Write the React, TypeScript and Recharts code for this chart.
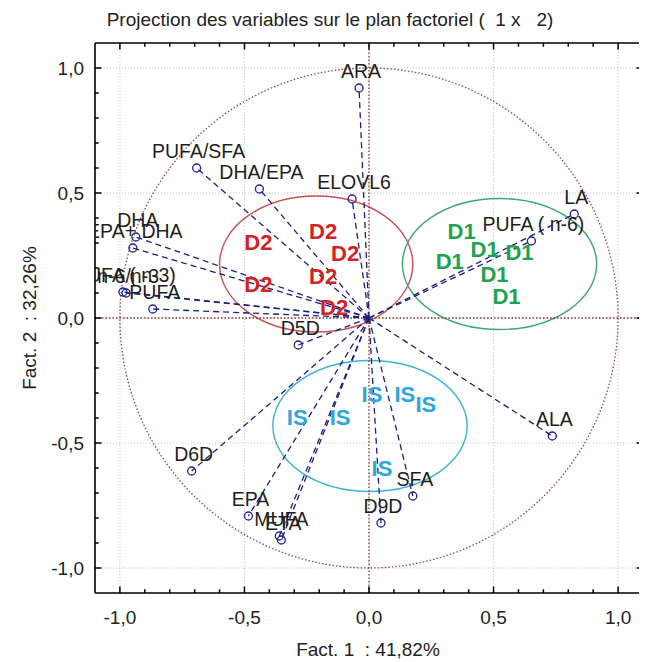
import React from "react";
import { ScatterChart, Scatter, XAxis, YAxis, CartesianGrid, ReferenceLine, ReferenceArea } from "recharts";

// variables projected on factors 1 and 2
const varNames = [
  "ARA", "PUFA/SFA", "DHA/EPA", "ELOVL6", "LA", "PUFA ( n-6)", "DHA", "EPA+ DHA",
  "PUFA ( n-3)", "n-6/n-3", "PUFA", "D5D", "D6D", "EPA", "MUFA", "ETA", "D9D", "SFA", "ALA",
];
const fact1 = [-0.04, -0.692, -0.44, -0.068, 0.824, 0.652, -0.936, -0.948, -0.988, -0.975, -0.868, -0.284, -0.712, -0.484, -0.36, -0.352, 0.048, 0.176, 0.736];
const fact2 = [0.92, 0.6, 0.516, 0.476, 0.416, 0.308, 0.324, 0.28, 0.104, 0.1, 0.036, -0.108, -0.612, -0.792, -0.872, -0.888, -0.82, -0.712, -0.472];

// observations (group labels)
const d2X = [-0.444, -0.184, -0.096, -0.444, -0.184, -0.14];
const d2Y = [0.304, 0.348, 0.26, 0.136, 0.168, 0.044];
const d1X = [0.372, 0.464, 0.604, 0.324, 0.504, 0.552];
const d1Y = [0.348, 0.276, 0.264, 0.228, 0.176, 0.088];
const isX = [-0.288, -0.116, 0.012, 0.144, 0.228, 0.052];
const isY = [-0.396, -0.396, -0.304, -0.304, -0.344, -0.6];

// group ellipses: centre and half-axes
const groupNames = ["D2", "D1", "IS"];
const ellCx = [-0.212, 0.524, 0.004];
const ellCy = [0.216, 0.216, -0.432];
const ellRx = [0.388, 0.39, 0.39];
const ellRy = [0.272, 0.262, 0.262];
const groupColors = ["#c8504f", "#3aa870", "#3fb2d2"];
const textColors = ["#d42222", "#22a24e", "#2ea6dc"];

const majorTicks = [-1, -0.5, 0, 0.5, 1];
const allTicks = [-1, -0.9, -0.8, -0.7, -0.6, -0.5, -0.4, -0.3, -0.2, -0.1, 0, 0.1, 0.2, 0.3, 0.4, 0.5, 0.6, 0.7, 0.8, 0.9, 1];
const LO = -1.1;
const HI = 1.1;

const FONT = '"Liberation Sans", Arial, sans-serif';
const isMajor = (v: number) => majorTicks.some((m) => Math.abs(m - v) < 1e-6);
const fmt = (v: number) => v.toFixed(1).replace(".", ",");
// inward tick length in axis units (~6.5px major, ~3.7px minor)
const tickLen = (v: number) => (isMajor(v) ? 0.026 : 0.015);

const varData = varNames.map((name, i) => ({ x: fact1[i], y: fact2[i], name }));
const groupData = [
  d2X.map((x, i) => ({ x, y: d2Y[i], name: "D2" })),
  d1X.map((x, i) => ({ x, y: d1Y[i], name: "D1" })),
  isX.map((x, i) => ({ x, y: isY[i], name: "IS" })),
];

const BottomTick = (p: any) => {
  const v = p.payload.value;
  if (!isMajor(v)) return <g />;
  return (
    <text x={p.x} y={p.y + 31} textAnchor="middle" fontSize={19} fill="#222" fontFamily={FONT}>
      {fmt(v)}
    </text>
  );
};
const LeftTick = (p: any) => {
  const v = p.payload.value;
  if (!isMajor(v)) return <g />;
  return (
    <text x={p.x - 11} y={p.y + 7} textAnchor="end" fontSize={19} fill="#222" fontFamily={FONT}>
      {fmt(v)}
    </text>
  );
};

const ellipseShape = (color: string, dash?: string, width = 1.4) => (p: any) => (
  <ellipse
    cx={p.x + p.width / 2}
    cy={p.y + p.height / 2}
    rx={Math.abs(p.width) / 2}
    ry={Math.abs(p.height) / 2}
    fill="none"
    stroke={color}
    strokeWidth={width}
    strokeDasharray={dash}
  />
);

const VarPoint = (p: any) => {
  const name = p.payload?.name ?? p.name;
  return (
    <g>
      <circle cx={p.cx} cy={p.cy} r={4} fill="none" stroke="#1f2390" strokeWidth={1.3} />
      <text x={p.cx + 2} y={p.cy - 10} textAnchor="middle" fontSize={19.5} fill="#1e1e1e" fontFamily={FONT}>
        {name}
      </text>
    </g>
  );
};

const groupShape = (color: string) => (p: any) => (
  <text x={p.cx} y={p.cy + 8} textAnchor="middle" fontSize={22} fontWeight="bold" fill={color} fontFamily={FONT}>
    {p.payload?.name ?? p.name}
  </text>
);

const tickSegments = allTicks.flatMap((v) => [
  [{ x: v, y: LO }, { x: v, y: LO + tickLen(v) }],
  [{ x: v, y: HI }, { x: v, y: HI - tickLen(v) }],
  [{ x: LO, y: v }, { x: LO + tickLen(v), y: v }],
  [{ x: HI, y: v }, { x: HI - tickLen(v), y: v }],
]);

export default function App() {
  return (
    <div style={{ position: "relative", width: 639, height: 654, fontFamily: FONT }}>
      <div style={{ position: "absolute", left: 0, top: 1, width: 644, lineHeight: "22px", textAlign: "center", fontSize: 19, color: "#222", whiteSpace: "pre" }}>
        {"Projection des variables sur le plan factoriel (  1 x   2)"}
      </div>
      <ScatterChart width={639} height={654} margin={{ top: 35, right: 4, bottom: 0, left: 0 }}>
        <CartesianGrid
          verticalValues={majorTicks}
          horizontalValues={majorTicks}
          stroke="#c4c4c4"
          strokeDasharray="1 2"
        />
        <XAxis
          type="number"
          dataKey="x"
          domain={[LO, HI]}
          allowDataOverflow
          ticks={allTicks}
          interval={0}
          tickSize={0}
          tickMargin={0}
          tickLine={false}
          tick={BottomTick}
          height={69}
          axisLine={{ stroke: "#000", strokeWidth: 1.6 }}
        />
        <XAxis
          xAxisId="top"
          orientation="top"
          mirror
          type="number"
          domain={[LO, HI]}
          tick={false}
          tickLine={false}
          height={10}
          axisLine={{ stroke: "#000", strokeWidth: 1.6 }}
        />
        <YAxis
          type="number"
          dataKey="y"
          domain={[LO, HI]}
          allowDataOverflow
          ticks={allTicks}
          interval={0}
          tickSize={0}
          tickMargin={0}
          tickLine={false}
          tick={LeftTick}
          width={87}
          axisLine={{ stroke: "#000", strokeWidth: 1.6 }}
        />
        <YAxis
          yAxisId="right"
          orientation="right"
          mirror
          type="number"
          domain={[LO, HI]}
          tick={false}
          tickLine={false}
          width={10}
          axisLine={{ stroke: "#000", strokeWidth: 1.6 }}
        />
        <ReferenceLine x={0} stroke="#8e3434" strokeDasharray="1.5 2" strokeWidth={1.3} />
        <ReferenceLine y={0} stroke="#8e3434" strokeDasharray="1.5 2" strokeWidth={1.3} />
        {tickSegments.map((s, i) => (
          <ReferenceLine key={`t${i}`} segment={s} stroke="#000" strokeWidth={1.5} ifOverflow="visible" />
        ))}
        <ReferenceArea x1={-1} x2={1} y1={-1} y2={1} shape={ellipseShape("#9a4545", "1.5 2", 1.3)} />
        {groupNames.map((g, i) => (
          <ReferenceArea
            key={g}
            x1={ellCx[i] - ellRx[i]}
            x2={ellCx[i] + ellRx[i]}
            y1={ellCy[i] - ellRy[i]}
            y2={ellCy[i] + ellRy[i]}
            shape={ellipseShape(groupColors[i])}
          />
        ))}
        {varNames.map((n, i) => (
          <ReferenceLine
            key={n}
            segment={[{ x: 0, y: 0 }, { x: fact1[i], y: fact2[i] }]}
            stroke="#1c1f7e"
            strokeDasharray="6 4"
            strokeWidth={1.3}
          />
        ))}
        <Scatter data={varData} shape={VarPoint} isAnimationActive={false} />
        {groupNames.map((g, i) => (
          <Scatter key={g} data={groupData[i]} shape={groupShape(textColors[i])} isAnimationActive={false} />
        ))}
      </ScatterChart>
      <div style={{ position: "absolute", left: 260, top: 631, width: 200, lineHeight: "22px", textAlign: "center", fontSize: 19, color: "#222", whiteSpace: "pre" }}>
        {"Fact. 1  : 41,82%"}
      </div>
      <div
        style={{
          position: "absolute",
          left: 22 - 100,
          top: 310 - 11,
          width: 200,
          height: 22,
          lineHeight: "22px",
          textAlign: "center",
          fontSize: 19,
          color: "#222",
          whiteSpace: "pre",
          transform: "rotate(-90deg)",
        }}
      >
        {"Fact. 2  : 32,26%"}
      </div>
    </div>
  );
}
